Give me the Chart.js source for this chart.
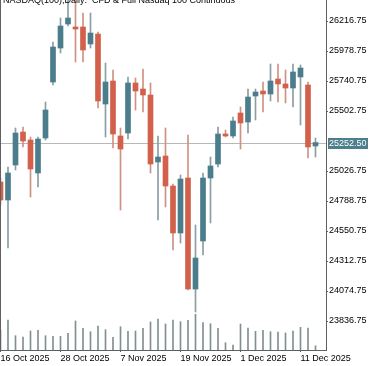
<!DOCTYPE html>
<html>
<head>
<meta charset="utf-8">
<script src="https://cdn.jsdelivr.net/npm/chart.js@4.4.1/dist/chart.umd.min.js"></script>
<style>
  html, body { margin: 0; padding: 0; background: #fff; }
  #wrap { width: 375px; height: 366px; }
</style>
</head>
<body>
<div id="wrap"><canvas id="myChart" width="375" height="366"></canvas></div>
<script>
const title = "NASDAQ(100),Daily:  CFD & Full Nasdaq 100 Continuous";
const dates = [
  "16 Oct 2025", "17 Oct 2025", "20 Oct 2025", "21 Oct 2025", "22 Oct 2025", "23 Oct 2025",
  "24 Oct 2025", "27 Oct 2025", "28 Oct 2025", "29 Oct 2025", "30 Oct 2025", "31 Oct 2025",
  "3 Nov 2025", "4 Nov 2025", "5 Nov 2025", "6 Nov 2025", "7 Nov 2025", "10 Nov 2025",
  "11 Nov 2025", "12 Nov 2025", "13 Nov 2025", "14 Nov 2025", "17 Nov 2025", "18 Nov 2025",
  "19 Nov 2025", "20 Nov 2025", "21 Nov 2025", "24 Nov 2025", "25 Nov 2025", "26 Nov 2025",
  "27 Nov 2025", "28 Nov 2025", "1 Dec 2025", "2 Dec 2025", "3 Dec 2025", "4 Dec 2025",
  "5 Dec 2025", "8 Dec 2025", "9 Dec 2025", "10 Dec 2025", "11 Dec 2025", "12 Dec 2025",
  "15 Dec 2025"
];
const open = [
  24939.5, 24796.75, 25074.5, 25336.0, 25272.75, 25011.0, 25288.5, 25732.75, 26002.5, 26193.0,
  26169.25, 26169.25, 26034.25, 26113.5, 25558.25, 25740.75, 25304.5, 25328.25, 25725.0, 25677.25,
  25629.75, 25098.25, 25145.75, 24907.75, 24535.0, 24971.25, 24090.5, 24471.5, 24971.25, 25082.25,
  25320.25, 25304.5, 25487.0, 25415.5, 25621.75, 25661.5, 25637.5, 25756.5, 25717.0, 25685.25,
  25772.5, 25709.0, 25225.0
];
const high = [
  24971.25, 25058.5, 25368.0, 25375.75, 25296.5, 25296.5, 25574.0, 26050.25, 26240.5, 26395.0,
  26375.0, 26280.25, 26280.25, 26129.5, 25883.5, 25828.0, 25368.0, 25772.5, 25764.5, 25836.0,
  25725.0, 25304.5, 25368.0, 24923.5, 24995.0, 25312.25, 24598.25, 25011.0, 25137.75, 25375.75,
  25352.0, 25455.0, 25534.5, 25677.25, 25677.25, 25732.75, 25875.5, 25875.5, 25828.0, 25875.5,
  25867.75, 25732.75, 25288.5
];
const low = [
  24757.0, 24415.75, 25034.75, 25217.25, 24820.5, 24899.75, 25272.75, 25709.0, 25963.0, 26177.0,
  25891.5, 25891.5, 26002.5, 25526.5, 25296.5, 25209.25, 24717.25, 25280.5, 25510.75, 25494.75,
  25011.0, 24638.0, 24741.0, 24400.0, 24455.5, 24082.5, 23908.0, 24360.25, 24614.25, 25058.5,
  25296.5, 25288.5, 25201.25, 25328.25, 25431.25, 25494.75, 25582.0, 25574.0, 25566.25, 25534.5,
  25391.75, 25130.0, 25137.75
];
const close = [
  24796.75, 25011.0, 25328.25, 25264.75, 25042.5, 25280.5, 25510.75, 26010.5, 26177.0, 26240.5,
  26153.25, 25986.75, 26121.5, 25582.0, 25732.75, 25320.25, 25201.25, 25725.0, 25661.5, 25629.75,
  25082.25, 25137.75, 24907.75, 24535.0, 24963.25, 24090.5, 24336.5, 24971.25, 25066.5, 25320.25,
  25304.5, 25423.5, 25407.5, 25613.75, 25653.5, 25637.5, 25740.75, 25717.0, 25685.25, 25812.25,
  25844.0, 25217.25, 25252.5
];
const volume = [
  400, 600, 286, 260, 380, 394, 286, 274, 274, 334,
  580, 434, 366, 480, 406, 254, 466, 374, 380, 434,
  560, 620, 520, 600, 566, 594, 714, 546, 526, 434,
  146, 100, 520, 440, 374, 394, 366, 360, 340, 380,
  454, 440, 86
];
const xTickLabels = ["16 Oct 2025", "28 Oct 2025", "7 Nov 2025", "19 Nov 2025", "1 Dec 2025", "11 Dec 2025"];
const yTicks = [23836.75, 24074.75, 24312.75, 24550.75, 24788.75, 25026.75, 25502.75, 25740.75, 25978.75, 26216.75];

const fontFamily = "'Liberation Sans', Arial, sans-serif";
const bullColor = "#4b7d8d";
const bearColor = "#d2604a";
const bullWick = "#8a9ea3";
const bearWick = "#cf9282";
const lastPrice = close[close.length - 1];

const isBull = close.map((c, i) => c >= open[i]);

const chartExtras = {
  id: "chartExtras",
  beforeDatasetsDraw(chart) {
    const { ctx, chartArea, scales } = chart;
    const y = Math.round(scales.y.getPixelForValue(lastPrice)) + 0.5;
    ctx.save();
    ctx.strokeStyle = "#b8b8b8";
    ctx.lineWidth = 1;
    ctx.beginPath();
    ctx.moveTo(chartArea.left, y);
    ctx.lineTo(chartArea.right, y);
    ctx.stroke();
    ctx.restore();
  },
  afterDraw(chart) {
    const { ctx, chartArea, scales } = chart;
    ctx.save();
    // left frame line
    ctx.strokeStyle = "#606060";
    ctx.lineWidth = 1;
    ctx.beginPath();
    ctx.moveTo(0.5, chartArea.top);
    ctx.lineTo(0.5, chartArea.bottom);
    ctx.stroke();
    // last price label on the axis
    const y = scales.y.getPixelForValue(lastPrice);
    ctx.fillStyle = "#4c7e8b";
    ctx.fillRect(chartArea.right + 2, Math.round(y) - 5, 40, 11);
    ctx.fillStyle = "#fff";
    ctx.font = "9px " + fontFamily;
    ctx.textBaseline = "middle";
    ctx.textAlign = "left";
    ctx.fillText(lastPrice.toFixed(2), chartArea.right + 3, Math.round(y) + 0.5);
    // title, cut off at the top like the original
    ctx.fillStyle = "#000";
    ctx.textBaseline = "alphabetic";
    ctx.fillText(title, 3, 2.5);
    ctx.restore();
  }
};

const ctx = document.getElementById("myChart").getContext("2d");
const chart = new Chart(ctx, {
  type: "bar",
  data: {
    datasets: [
      {
        label: "body",
        order: 0,
        grouped: false,
        barThickness: 5,
        data: dates.map((d, i) => ({ x: i, y: [open[i], close[i]] })),
        backgroundColor: isBull.map(b => (b ? bullColor : bearColor)),
      },
      {
        label: "wick",
        order: 1,
        grouped: false,
        barThickness: 1,
        data: dates.map((d, i) => ({ x: i, y: [low[i], high[i]] })),
        backgroundColor: isBull.map(b => (b ? bullWick : bearWick)),
      },
      {
        label: "volume",
        order: 2,
        grouped: false,
        barThickness: 1,
        yAxisID: "yv",
        data: dates.map((d, i) => ({ x: i, y: volume[i] })),
        backgroundColor: "#7f9091",
      },
    ],
  },
  options: {
    responsive: false,
    animation: false,
    layout: { padding: 0 },
    plugins: { legend: { display: false }, tooltip: { enabled: false } },
    scales: {
      x: {
        type: "linear",
        offset: false,
        min: -0.0667,
        max: 43.4,
        afterBuildTicks: s => { s.ticks = xTickLabels.map(l => ({ value: dates.indexOf(l) })); },
        afterFit: s => { s.height = 16; s.paddingLeft = 0; s.paddingRight = 0; },
        grid: { offset: false, drawOnChartArea: false, tickLength: 2, color: "#606060" },
        border: { color: "#606060" },
        ticks: {
          align: "start",
          autoSkip: false,
          maxRotation: 0,
          padding: 1,
          color: "#000",
          font: { family: fontFamily, size: 9 },
          callback: v => dates[v],
        },
      },
      y: {
        position: "right",
        min: 23606.7,
        max: 26383.35,
        afterBuildTicks: s => { s.ticks = yTicks.map(v => ({ value: v })); },
        afterFit: s => { s.width = 49; s.paddingTop = 0; s.paddingBottom = 0; },
        grid: { drawOnChartArea: false, tickLength: 2, color: "#606060" },
        border: { color: "#606060" },
        ticks: {
          padding: 1,
          color: "#000",
          font: { family: fontFamily, size: 9 },
          callback: v => v.toFixed(2),
        },
      },
      yv: { display: false, min: 0, max: 7000 },
    },
  },
  plugins: [chartExtras],
});
</script>
</body>
</html>
